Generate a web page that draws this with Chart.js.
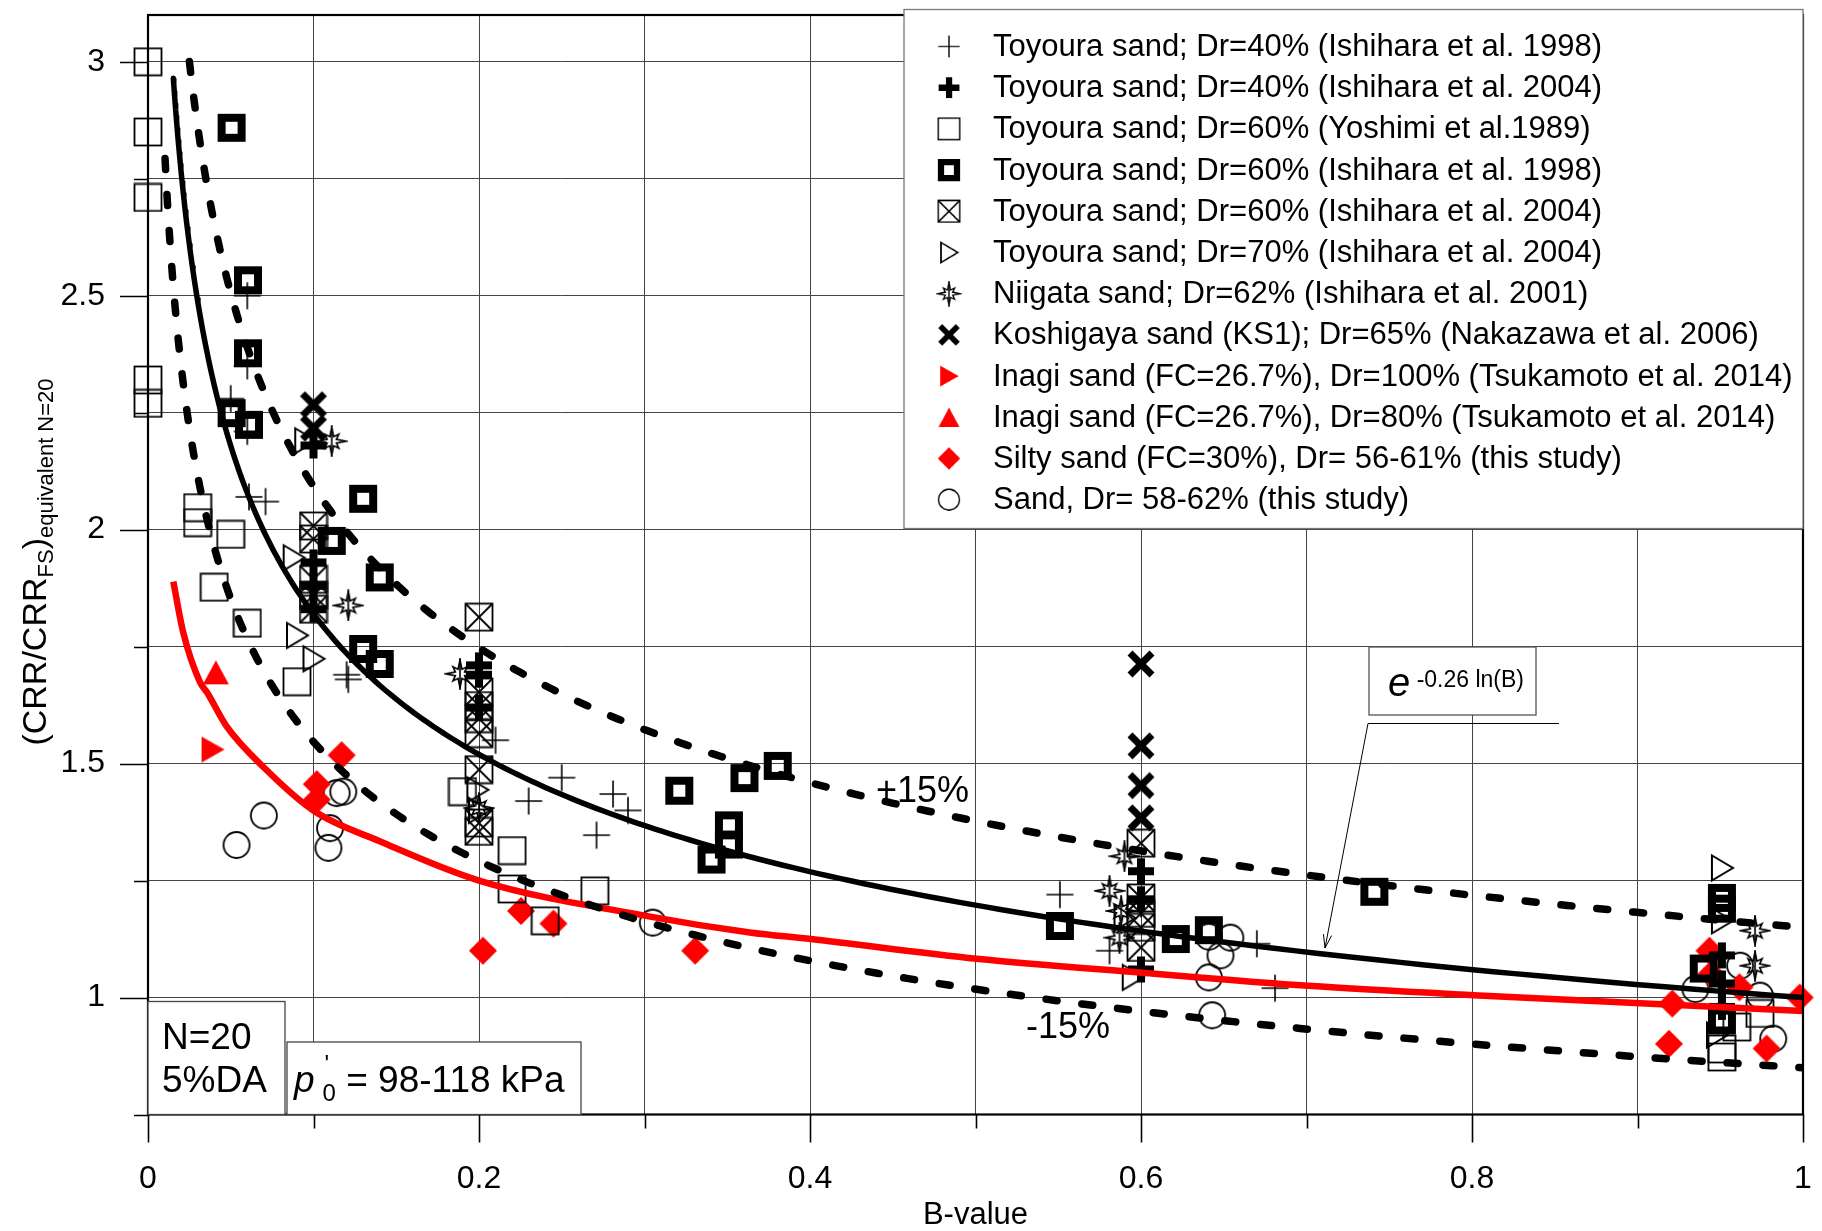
<!DOCTYPE html>
<html>
<head>
<meta charset="utf-8">
<title>CRR ratio vs B-value</title>
<script src="https://cdn.jsdelivr.net/npm/chart.js@4.4.1/dist/chart.umd.min.js"></script>
<style>
  html, body { margin: 0; padding: 0; background: #fff; }
  #wrap { width: 1822px; height: 1231px; }
</style>
</head>
<body>
<div id="wrap"><canvas id="c" width="1822" height="1231"></canvas></div>
<script>
// ---------- data: [B-value, (CRR/CRR_FS) equivalent N=20] ----------
const toyoura40Ishihara1998 = [[0.05,2.28],[0.06,2.50],[0.06,2.35],[0.06,2.21],[0.061,2.07],[0.071,2.06],
  [0.12,1.69],[0.121,1.68],[0.21,1.55],[0.25,1.47],[0.23,1.42],[0.281,1.435],[0.29,1.40],[0.271,1.347],
  [0.551,1.22],[0.581,1.10],[0.67,1.115],[0.681,1.02],[0.6,1.20]];
const toyoura40Ishihara2004 = [[0.1,2.18],[0.1,1.93],[0.1,1.88],[0.1,1.83],[0.2,1.71],[0.2,1.69],[0.2,1.62],
  [0.6,1.27],[0.6,1.21],[0.6,1.06],[0.951,1.09],[0.951,1.03],[0.951,0.98]];
const toyoura60Yoshimi1989 = [[0,3.0],[0,2.85],[0,2.71],[0,2.32],[0,2.27],[0.03,2.047],[0.03,2.015],[0.05,1.99],
  [0.04,1.877],[0.06,1.80],[0.09,1.675],[0.19,1.44],[0.22,1.314],[0.22,1.232],[0.24,1.164],[0.27,1.228],
  [0.96,0.937],[0.951,0.873],[0.951,0.89],[0.974,0.966]];
const toyoura60Ishihara1998 = [[0.0505,2.859],[0.0604,2.533],[0.0604,2.377],[0.0505,2.249],[0.061,2.224],
  [0.111,1.976],[0.13,2.066],[0.14,1.898],[0.13,1.745],[0.14,1.713],[0.321,1.442],[0.3405,1.295],[0.351,1.368],
  [0.351,1.327],[0.3604,1.469],[0.3805,1.495],[0.551,1.153],[0.621,1.125],[0.641,1.144],[0.741,1.226],
  [0.951,1.213],[0.951,1.19],[0.94,1.062],[0.951,0.951]];
const toyoura60Ishihara2004 = [[0.1,2.008],[0.1,1.98],[0.1,1.894],[0.1,1.86],[0.1,1.83],[0.2,1.813],[0.2,1.653],
  [0.2,1.624],[0.2,1.596],[0.2,1.564],[0.2,1.487],[0.2,1.373],[0.2,1.355],[0.6,1.33],[0.6,1.213],[0.6,1.18],
  [0.6,1.15],[0.6,1.107]];
const toyoura70Ishihara2004 = [[0.095,2.19],[0.088,1.94],[0.09,1.774],[0.1,1.724],[0.199,1.444],[0.2,1.40],
  [0.595,1.043],[0.59,1.17],[0.951,1.277],[0.951,1.164],[0.948,0.92]];
const niigata62Ishihara2001 = [[0.111,2.189],[0.121,1.838],[0.1885,1.692],[0.2,1.405],[0.59,1.302],[0.581,1.228],
  [0.588,1.185],[0.587,1.128],[0.971,1.143],[0.971,1.068]];
const koshigayaNakazawa2006 = [[0.1,2.267],[0.1,2.217],[0.6,1.713],[0.6,1.538],[0.6,1.453],[0.6,1.384]];
const inagi100Tsukamoto2014 = [[0.039,1.53]];
const inagi80Tsukamoto2014 = [[0.041,1.695]];
const siltySandThisStudy = [[0.117,1.518],[0.102,1.456],[0.102,1.423],[0.2254,1.185],[0.245,1.158],[0.2024,1.10],
  [0.3306,1.10],[0.9435,1.10],[0.9445,1.05],[0.9616,1.022],[0.921,0.987],[0.919,0.901],[0.978,0.891],[0.998,1.0]];
const sandThisStudy = [[0.0535,1.326],[0.07,1.389],[0.11,1.362],[0.109,1.32],[0.118,1.44],[0.114,1.437],[0.305,1.16],
  [0.641,1.13],[0.654,1.128],[0.648,1.09],[0.641,1.043],[0.643,0.962],[0.935,1.018],[0.962,1.068],[0.974,1.004],
  [0.982,0.912]];

// red trend line through the silty-sand results
const siltyTrend = [[0.0153,1.889],[0.0213,1.78],[0.0314,1.674],[0.0359,1.651],[0.0474,1.58],[0.0705,1.49],
  [0.1006,1.398],[0.14,1.334],[0.2,1.25],[0.3017,1.174],[0.3636,1.139],[0.4006,1.125],[0.5008,1.083],
  [0.6008,1.053],[0.701,1.025],[0.801,1.005],[0.9017,0.988],[1.0,0.971]];

// fitted relation e^(-0.26 ln B) with a ±15 % band
const fitExponent = -0.26;
const bandFactors = [1.0, 1.15, 0.85];
const bandStartB = [0.0153, 0.025, 0.0103];

const xTickValues = [0,0.1,0.2,0.3,0.4,0.5,0.6,0.7,0.8,0.9,1.0];
const yTickValues = [0.75,1.0,1.25,1.5,1.75,2.0,2.25,2.5,2.75,3.0];

const seriesLabels = [
  'Toyoura sand; Dr=40% (Ishihara et al. 1998)',
  'Toyoura sand; Dr=40% (Ishihara et al. 2004)',
  'Toyoura sand; Dr=60% (Yoshimi et al.1989)',
  'Toyoura sand; Dr=60% (Ishihara et al. 1998)',
  'Toyoura sand; Dr=60% (Ishihara et al. 2004)',
  'Toyoura sand; Dr=70% (Ishihara et al. 2004)',
  'Niigata sand; Dr=62% (Ishihara et al. 2001)',
  'Koshigaya sand (KS1); Dr=65% (Nakazawa et al. 2006)',
  'Inagi sand (FC=26.7%), Dr=100% (Tsukamoto et al. 2014)',
  'Inagi sand (FC=26.7%), Dr=80% (Tsukamoto et al. 2014)',
  'Silty sand (FC=30%), Dr= 56-61% (this study)',
  'Sand, Dr= 58-62% (this study)'
];
const seriesData = [toyoura40Ishihara1998, toyoura40Ishihara2004, toyoura60Yoshimi1989, toyoura60Ishihara1998,
  toyoura60Ishihara2004, toyoura70Ishihara2004, niigata62Ishihara2001, koshigayaNakazawa2006,
  inagi100Tsukamoto2014, inagi80Tsukamoto2014, siltySandThisStudy, sandThisStudy];

// ---------- marker glyphs ----------
const FONT = "'Liberation Sans', Arial, Helvetica, sans-serif";
function glyph(size, draw) {
  const c = document.createElement('canvas');
  c.width = size; c.height = size;
  const g = c.getContext('2d');
  draw(g, size / 2, size);
  return c;
}
const RED = '#ff0000';
const markers = [
  glyph(30, (g, c) => { g.strokeStyle = '#000'; g.lineWidth = 1.6; g.beginPath();
    g.moveTo(c, 1.5); g.lineTo(c, 28.5); g.moveTo(1.5, c); g.lineTo(28.5, c); g.stroke(); }),
  glyph(28, (g, c) => { g.fillStyle = '#000'; g.fillRect(c - 4, 1, 8, 26); g.fillRect(1, c - 4, 26, 8); }),
  glyph(30, (g) => { g.strokeStyle = '#000'; g.lineWidth = 1.8; g.strokeRect(1.5, 1.5, 27, 27); }),
  glyph(30, (g, c) => { g.fillStyle = '#000'; g.beginPath(); g.rect(1, 1, 28, 28); g.rect(c - 6, c - 6, 12, 12); g.fill('evenodd'); }),
  glyph(30, (g) => { g.strokeStyle = '#000'; g.lineWidth = 1.8; g.strokeRect(1.5, 1.5, 27, 27); g.beginPath();
    g.moveTo(1.5, 1.5); g.lineTo(28.5, 28.5); g.moveTo(28.5, 1.5); g.lineTo(1.5, 28.5); g.stroke(); }),
  glyph(30, (g, c) => { g.strokeStyle = '#000'; g.lineWidth = 2; g.beginPath();
    g.moveTo(c - 10, 2.5); g.lineTo(c + 11, c); g.lineTo(c - 10, 27.5); g.closePath(); g.stroke(); }),
  glyph(32, (g, c) => { g.strokeStyle = '#000'; g.lineWidth = 1.6; g.lineJoin = 'miter'; g.beginPath();
    for (let i = 0; i < 16; i++) {
      const a = -Math.PI / 2 + i * Math.PI / 8;
      const r = (i % 4 === 0) ? 14 : (i % 2 === 0 ? 10 : 5);
      const px = c + r * Math.cos(a), py = c + r * Math.sin(a);
      if (i === 0) g.moveTo(px, py); else g.lineTo(px, py);
    }
    g.closePath(); g.stroke();
    g.beginPath(); g.moveTo(c, 0.5); g.lineTo(c, 31.5); g.stroke(); }),
  glyph(30, (g) => { g.strokeStyle = '#000'; g.lineWidth = 7; g.beginPath();
    g.moveTo(4, 4); g.lineTo(26, 26); g.moveTo(26, 4); g.lineTo(4, 26); g.stroke(); }),
  glyph(28, (g, c) => { g.fillStyle = RED; g.beginPath(); g.moveTo(c - 11, 1); g.lineTo(c + 12, c); g.lineTo(c - 11, 27); g.closePath(); g.fill(); }),
  glyph(28, (g, c) => { g.fillStyle = RED; g.beginPath(); g.moveTo(c, 2); g.lineTo(c + 13, 26); g.lineTo(c - 13, 26); g.closePath(); g.fill(); }),
  glyph(30, (g, c) => { g.fillStyle = RED; g.beginPath(); g.moveTo(c, 1); g.lineTo(29, c); g.lineTo(c, 29); g.lineTo(1, c); g.closePath(); g.fill(); }),
  glyph(30, (g, c) => { g.strokeStyle = '#000'; g.lineWidth = 1.8; g.beginPath(); g.arc(c, c, 13, 0, Math.PI * 2); g.stroke(); })
];

// ---------- datasets ----------
function fitCurve(factor, startB) {
  const pts = [];
  const n = 240;
  for (let i = 0; i <= n; i++) {
    const b = startB * Math.pow(1 / startB, i / n);
    pts.push([b, factor * Math.exp(fitExponent * Math.log(b))]);
  }
  return pts;
}
const datasets = [];
bandFactors.forEach((f, i) => {
  datasets.push({
    type: 'line', data: fitCurve(f, bandStartB[i]), order: 0,
    borderColor: '#000', borderWidth: i === 0 ? 5.5 : 7.5,
    borderDash: i === 0 ? [] : [11, 25], borderCapStyle: 'round',
    pointRadius: 0, fill: false, tension: 0
  });
});
datasets.push({
  type: 'line', data: siltyTrend, order: 0, borderColor: RED, borderWidth: 6.5,
  cubicInterpolationMode: 'monotone', pointRadius: 0, fill: false
});
seriesData.forEach((d, i) => {
  datasets.push({
    type: 'scatter', label: seriesLabels[i], data: d, order: 1, clip: false,
    pointStyle: markers[i], pointRadius: 14, showLine: false
  });
});

// ---------- drawing helpers ----------
function drawParts(ctx, parts, x, y) {
  let cx = x;
  parts.forEach(p => {
    ctx.font = (p.italic ? 'italic ' : '') + p.size + 'px ' + FONT;
    ctx.fillText(p.t, cx + (p.dx || 0), y + (p.dy || 0));
    if (!p.noAdvance) cx += ctx.measureText(p.t).width + (p.dx || 0);
  });
  return cx - x;
}
function measureParts(ctx, parts) {
  let w = 0;
  parts.forEach(p => {
    ctx.font = (p.italic ? 'italic ' : '') + p.size + 'px ' + FONT;
    if (!p.noAdvance) w += ctx.measureText(p.t).width + (p.dx || 0);
  });
  return w;
}
function box(ctx, x0, y0, x1, y1, stroke) {
  ctx.fillStyle = '#fff';
  ctx.fillRect(x0, y0, x1 - x0, y1 - y0);
  ctx.strokeStyle = stroke; ctx.lineWidth = 1.3;
  ctx.strokeRect(x0, y0, x1 - x0, y1 - y0);
}

const decor = {
  id: 'decor',
  afterDraw(chart) {
    const ctx = chart.ctx;
    const a = chart.chartArea;
    const xs = chart.scales.x, ys = chart.scales.y;
    ctx.save();
    ctx.textBaseline = 'alphabetic';
    ctx.fillStyle = '#000';

    // outer tick marks
    ctx.strokeStyle = '#000'; ctx.lineWidth = 1.6;
    ctx.beginPath();
    xTickValues.forEach((v, i) => {
      const px = Math.round(xs.getPixelForValue(v)) + 0.5;
      ctx.moveTo(px, a.bottom); ctx.lineTo(px, a.bottom + (i % 2 === 0 ? 28 : 14));
    });
    yTickValues.forEach(v => {
      const py = Math.round(ys.getPixelForValue(v)) + 0.5;
      const major = Math.abs(v * 2 - Math.round(v * 2)) < 1e-6;
      ctx.moveTo(a.left, py); ctx.lineTo(a.left - (major ? 28 : 14), py);
    });
    ctx.stroke();

    // plot frame
    ctx.lineWidth = 2.2;
    ctx.strokeRect(a.left, a.top, a.right - a.left, a.bottom - a.top);

    // legend
    box(ctx, 904, 9.5, 1803, 528.5, '#777');
    ctx.font = '31px ' + FONT;
    ctx.textBaseline = 'middle';
    ctx.fillStyle = '#000';
    seriesLabels.forEach((lab, i) => {
      const cy = 46.5 + i * 41.2;
      const m = markers[i];
      const k = 0.8;
      ctx.drawImage(m, 949 - m.width * k / 2, cy - m.height * k / 2, m.width * k, m.height * k);
      ctx.fillText(lab, 993, cy + 1);
    });
    ctx.textBaseline = 'alphabetic';

    // band labels
    ctx.fillStyle = '#000';
    ctx.font = '36px ' + FONT;
    ctx.fillText('+15%', 876, 802);
    ctx.fillText('-15%', 1026, 1038);

    // fitted relation label with leader arrow
    box(ctx, 1369, 647, 1536, 715, '#555');
    ctx.fillStyle = '#000';
    drawParts(ctx, [{ t: 'e', size: 40, italic: true }, { t: ' -0.26 ln(B)', size: 23, dy: -9 }], 1388, 696);
    ctx.strokeStyle = '#000'; ctx.lineWidth = 1;
    ctx.beginPath();
    ctx.moveTo(1559, 723.5); ctx.lineTo(1368, 723.5); ctx.lineTo(1325, 948);
    ctx.stroke();
    const ang = Math.atan2(948 - 723.5, 1325 - 1368);
    ctx.beginPath();
    ctx.moveTo(1325 - 14 * Math.cos(ang - 0.3), 948 - 14 * Math.sin(ang - 0.3));
    ctx.lineTo(1325, 948);
    ctx.lineTo(1325 - 14 * Math.cos(ang + 0.3), 948 - 14 * Math.sin(ang + 0.3));
    ctx.stroke();

    // test-condition boxes
    box(ctx, 148, 1001.5, 285, 1114.5, '#444');
    box(ctx, 287, 1042, 581, 1114.5, '#444');
    ctx.fillStyle = '#000';
    ctx.font = '37px ' + FONT;
    ctx.fillText('N=20', 162, 1049);
    ctx.fillText('5%DA', 162, 1092);
    drawParts(ctx, [
      { t: 'p', size: 37, italic: true },
      { t: "'", size: 24, dy: -20, dx: 10, noAdvance: true },
      { t: '0', size: 24, dy: 9, dx: 8 },
      { t: ' = 98-118 kPa', size: 37 }
    ], 294, 1092);

    // y-axis title with subscripts
    ctx.save();
    ctx.translate(46, 562);
    ctx.rotate(-Math.PI / 2);
    const yParts = [
      { t: '(CRR/CRR', size: 34 }, { t: 'FS', size: 22, dy: 7 },
      { t: ')', size: 34 }, { t: 'equivalent N=20', size: 22, dy: 7 }
    ];
    const w = measureParts(ctx, yParts);
    drawParts(ctx, yParts, -w / 2, 0);
    ctx.restore();

    ctx.restore();
  }
};

// ---------- chart ----------
Chart.defaults.font.family = FONT;
Chart.defaults.color = '#000';
const chart = new Chart(document.getElementById('c').getContext('2d'), {
  type: 'scatter',
  data: { datasets },
  options: {
    responsive: false,
    animation: false,
    devicePixelRatio: 1,
    events: [],
    layout: { padding: { top: 10, right: 19, bottom: 0, left: 0 } },
    plugins: { legend: { display: false }, tooltip: { enabled: false } },
    scales: {
      x: {
        type: 'linear', min: 0, max: 1,
        afterBuildTicks: s => { s.ticks = xTickValues.map(v => ({ value: v })); },
        ticks: {
          autoSkip: false, maxRotation: 0, padding: 45, color: '#000', font: { size: 32 },
          callback: v => {
            const k = Math.round(v * 10);
            if (k % 2 !== 0) return '';
            return k === 0 ? '0' : (k === 10 ? '1' : (k / 10).toFixed(1));
          }
        },
        grid: { color: '#444', lineWidth: 1, drawTicks: false },
        border: { display: false },
        title: { display: true, text: 'B-value', color: '#000', font: { size: 31, lineHeight: 1 }, padding: { top: 0, bottom: 0 } },
        afterFit: s => { s.height = 116.5; s.paddingLeft = 0; s.paddingRight = 0; }
      },
      y: {
        type: 'linear', min: 0.75, max: 3.1,
        afterBuildTicks: s => { s.ticks = yTickValues.map(v => ({ value: v })); },
        ticks: {
          autoSkip: false, padding: 43, color: '#000', font: { size: 32 },
          callback: v => (Math.abs(v * 2 - Math.round(v * 2)) < 1e-6 ? String(v) : '')
        },
        grid: { color: '#444', lineWidth: 1, drawTicks: false },
        border: { display: false },
        afterFit: s => { s.width = 148; s.paddingTop = 0; s.paddingBottom = 0; }
      }
    }
  },
  plugins: [decor]
});
</script>
</body>
</html>
